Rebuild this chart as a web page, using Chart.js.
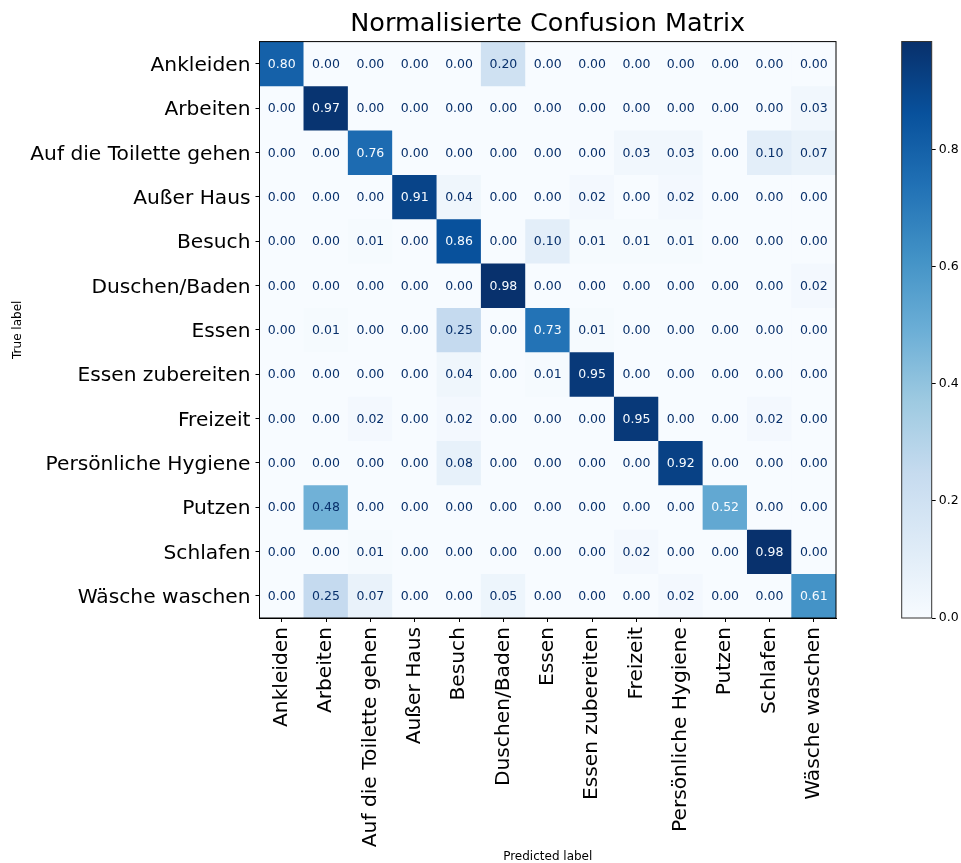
<!DOCTYPE html>
<html>
<head>
<meta charset="utf-8">
<script src="https://cdn.jsdelivr.net/npm/chart.js@4.4.0/dist/chart.umd.min.js"></script>
<style>
  html, body { margin: 0; padding: 0; background: #fff; }
  #wrap { position: relative; width: 961px; height: 863px; }
  #matrix { position: absolute; left: 0; top: 0; }
  #cbar { position: absolute; left: 880px; top: 0; }
</style>
</head>
<body>
<div id="wrap">
  <canvas id="matrix" width="961" height="863"></canvas>
  <canvas id="cbar" width="81" height="863"></canvas>
</div>
<script>
// Klassen (Zeilen = wahre Klasse, Spalten = vorhergesagte Klasse)
const rowLabels = ["Ankleiden", "Arbeiten", "Auf die Toilette gehen", "Außer Haus", "Besuch",
  "Duschen/Baden", "Essen", "Essen zubereiten", "Freizeit", "Persönliche Hygiene",
  "Putzen", "Schlafen", "Wäsche waschen"];
const colLabels = rowLabels.slice();

// normalisierte Werte, eine Zeile pro wahrer Klasse
const rowAnkleiden   = [0.80, 0.00, 0.00, 0.00, 0.00, 0.20, 0.00, 0.00, 0.00, 0.00, 0.00, 0.00, 0.00];
const rowArbeiten    = [0.00, 0.97, 0.00, 0.00, 0.00, 0.00, 0.00, 0.00, 0.00, 0.00, 0.00, 0.00, 0.03];
const rowToilette    = [0.00, 0.00, 0.76, 0.00, 0.00, 0.00, 0.00, 0.00, 0.03, 0.03, 0.00, 0.10, 0.07];
const rowAusserHaus  = [0.00, 0.00, 0.00, 0.91, 0.04, 0.00, 0.00, 0.02, 0.00, 0.02, 0.00, 0.00, 0.00];
const rowBesuch      = [0.00, 0.00, 0.01, 0.00, 0.86, 0.00, 0.10, 0.01, 0.01, 0.01, 0.00, 0.00, 0.00];
const rowDuschen     = [0.00, 0.00, 0.00, 0.00, 0.00, 0.98, 0.00, 0.00, 0.00, 0.00, 0.00, 0.00, 0.02];
const rowEssen       = [0.00, 0.01, 0.00, 0.00, 0.25, 0.00, 0.73, 0.01, 0.00, 0.00, 0.00, 0.00, 0.00];
const rowZubereiten  = [0.00, 0.00, 0.00, 0.00, 0.04, 0.00, 0.01, 0.95, 0.00, 0.00, 0.00, 0.00, 0.00];
const rowFreizeit    = [0.00, 0.00, 0.02, 0.00, 0.02, 0.00, 0.00, 0.00, 0.95, 0.00, 0.00, 0.02, 0.00];
const rowHygiene     = [0.00, 0.00, 0.00, 0.00, 0.08, 0.00, 0.00, 0.00, 0.00, 0.92, 0.00, 0.00, 0.00];
const rowPutzen      = [0.00, 0.48, 0.00, 0.00, 0.00, 0.00, 0.00, 0.00, 0.00, 0.00, 0.52, 0.00, 0.00];
const rowSchlafen    = [0.00, 0.00, 0.01, 0.00, 0.00, 0.00, 0.00, 0.00, 0.02, 0.00, 0.00, 0.98, 0.00];
const rowWaesche     = [0.00, 0.25, 0.07, 0.00, 0.00, 0.05, 0.00, 0.00, 0.00, 0.02, 0.00, 0.00, 0.61];

const matrix = [rowAnkleiden, rowArbeiten, rowToilette, rowAusserHaus, rowBesuch, rowDuschen,
  rowEssen, rowZubereiten, rowFreizeit, rowHygiene, rowPutzen, rowSchlafen, rowWaesche];

const colorMax = 0.985;
const cbarTicks = [0, 0.2, 0.4, 0.6, 0.8];

// "Blues" Farbskala
const BLUES = ["#f7fbff", "#deebf7", "#c6dbef", "#9ecae1", "#6baed6", "#4292c6", "#2171b5", "#08519c", "#08306b"];

function hexToRgb(h) {
  return [parseInt(h.slice(1, 3), 16), parseInt(h.slice(3, 5), 16), parseInt(h.slice(5, 7), 16)];
}

function blues(t) {
  t = Math.max(0, Math.min(1, t));
  const s = t * (BLUES.length - 1);
  const i = Math.min(BLUES.length - 2, Math.floor(s));
  const f = s - i;
  const a = hexToRgb(BLUES[i]), b = hexToRgb(BLUES[i + 1]);
  const c = a.map((v, k) => Math.round(v + (b[k] - v) * f));
  return "rgb(" + c.join(",") + ")";
}

const FONT = "'DejaVu Sans', sans-serif";

// jede Zeile ist ein Datensatz aus schwebenden Balken [r, r+1]
const datasets = matrix.map((row, r) => ({
  label: rowLabels[r],
  data: row.map(() => [r, r + 1]),
  values: row,
  backgroundColor: row.map(v => blues(v / colorMax)),
  borderWidth: 0,
  grouped: false,
  barPercentage: 1,
  categoryPercentage: 1
}));

// Zahlen in die Zellen schreiben
const cellText = {
  id: "cellText",
  afterDatasetsDraw(chart) {
    const ctx = chart.ctx;
    ctx.save();
    ctx.font = "12.5px " + FONT;
    ctx.textAlign = "center";
    ctx.textBaseline = "middle";
    chart.data.datasets.forEach((ds, di) => {
      chart.getDatasetMeta(di).data.forEach((el, i) => {
        const v = ds.values[i];
        const p = el.getCenterPoint();
        ctx.fillStyle = v > colorMax / 2 ? "#f7fbff" : "#08306b";
        ctx.fillText(v.toFixed(2), p.x, p.y + 1);
      });
    });
    ctx.restore();
  }
};

// Rahmen um die Zeichenfläche
const frame = {
  id: "frame",
  afterDraw(chart, args, opts) {
    const a = chart.chartArea;
    const ctx = chart.ctx;
    ctx.save();
    ctx.strokeStyle = opts.color || "#000";
    ctx.lineWidth = 1;
    ctx.strokeRect(a.left, a.top, a.right - a.left, a.bottom - a.top);
    ctx.restore();
  }
};

new Chart(document.getElementById("matrix"), {
  type: "bar",
  data: { labels: colLabels, datasets: datasets },
  plugins: [cellText, frame],
  options: {
    responsive: false,
    animation: false,
    layout: { padding: { left: 0, right: 125, top: 0, bottom: 0 } },
    plugins: {
      legend: { display: false },
      tooltip: { enabled: false },
      frame: { color: "#000" },
      title: {
        display: true,
        text: "Normalisierte Confusion Matrix",
        fullSize: false,
        color: "#000",
        font: { family: FONT, size: 25.5, weight: "normal" },
        padding: { top: 9, bottom: 2 }
      }
    },
    scales: {
      x: {
        type: "category",
        afterFit(scale) { scale.height = 245; },
        grid: { drawOnChartArea: false, offset: false, tickLength: 4, color: "#000" },
        border: { color: "#000" },
        ticks: {
          autoSkip: false, minRotation: 90, maxRotation: 90, padding: 5,
          color: "#000", font: { family: FONT, size: 20.2 }
        },
        title: {
          display: true, text: "Predicted label", color: "#000",
          font: { family: FONT, size: 12, lineHeight: 1 }, padding: { top: 0, bottom: 0 }
        }
      },
      y: {
        type: "linear",
        reverse: true,
        min: 0,
        max: matrix.length,
        afterFit(scale) { scale.width = 259.5; },
        afterBuildTicks(scale) { scale.ticks = rowLabels.map((_, i) => ({ value: i + 0.5 })); },
        grid: { drawOnChartArea: false, tickLength: 4, color: "#000" },
        border: { color: "#000" },
        ticks: {
          autoSkip: false, padding: 5, labelOffset: 2, color: "#000",
          font: { family: FONT, size: 20.2 },
          callback: (v, i) => rowLabels[i]
        },
        title: {
          display: true, text: "True label", color: "#000",
          font: { family: FONT, size: 12, lineHeight: 1.2 }, padding: { top: 11, bottom: 0 }
        }
      }
    }
  }
});

// Farbleiste
new Chart(document.getElementById("cbar"), {
  type: "bar",
  data: {
    labels: [""],
    datasets: [{
      data: [colorMax],
      borderWidth: 0,
      barPercentage: 1,
      categoryPercentage: 1,
      backgroundColor(ctx) {
        const chart = ctx.chart;
        if (!chart.chartArea) return BLUES[0];
        const y = chart.scales.y;
        const g = chart.ctx.createLinearGradient(0, y.getPixelForValue(0), 0, y.getPixelForValue(colorMax));
        BLUES.forEach((c, i) => g.addColorStop(i / (BLUES.length - 1), c));
        return g;
      }
    }]
  },
  plugins: [frame],
  options: {
    responsive: false,
    animation: false,
    layout: { padding: { left: 21.7, right: 0, top: 41.5, bottom: 245 } },
    plugins: { legend: { display: false }, tooltip: { enabled: false }, frame: { color: "#333" } },
    scales: {
      x: { display: false },
      y: {
        position: "right",
        min: 0,
        max: colorMax,
        afterFit(scale) { scale.width = 29.3; },
        afterBuildTicks(scale) { scale.ticks = cbarTicks.map(v => ({ value: v })); },
        grid: { drawOnChartArea: false, tickLength: 4, color: "#000" },
        border: { display: false },
        ticks: {
          padding: 3, color: "#000", font: { family: FONT, size: 12.5 },
          callback: v => v.toFixed(1)
        }
      }
    }
  }
});
</script>
</body>
</html>
